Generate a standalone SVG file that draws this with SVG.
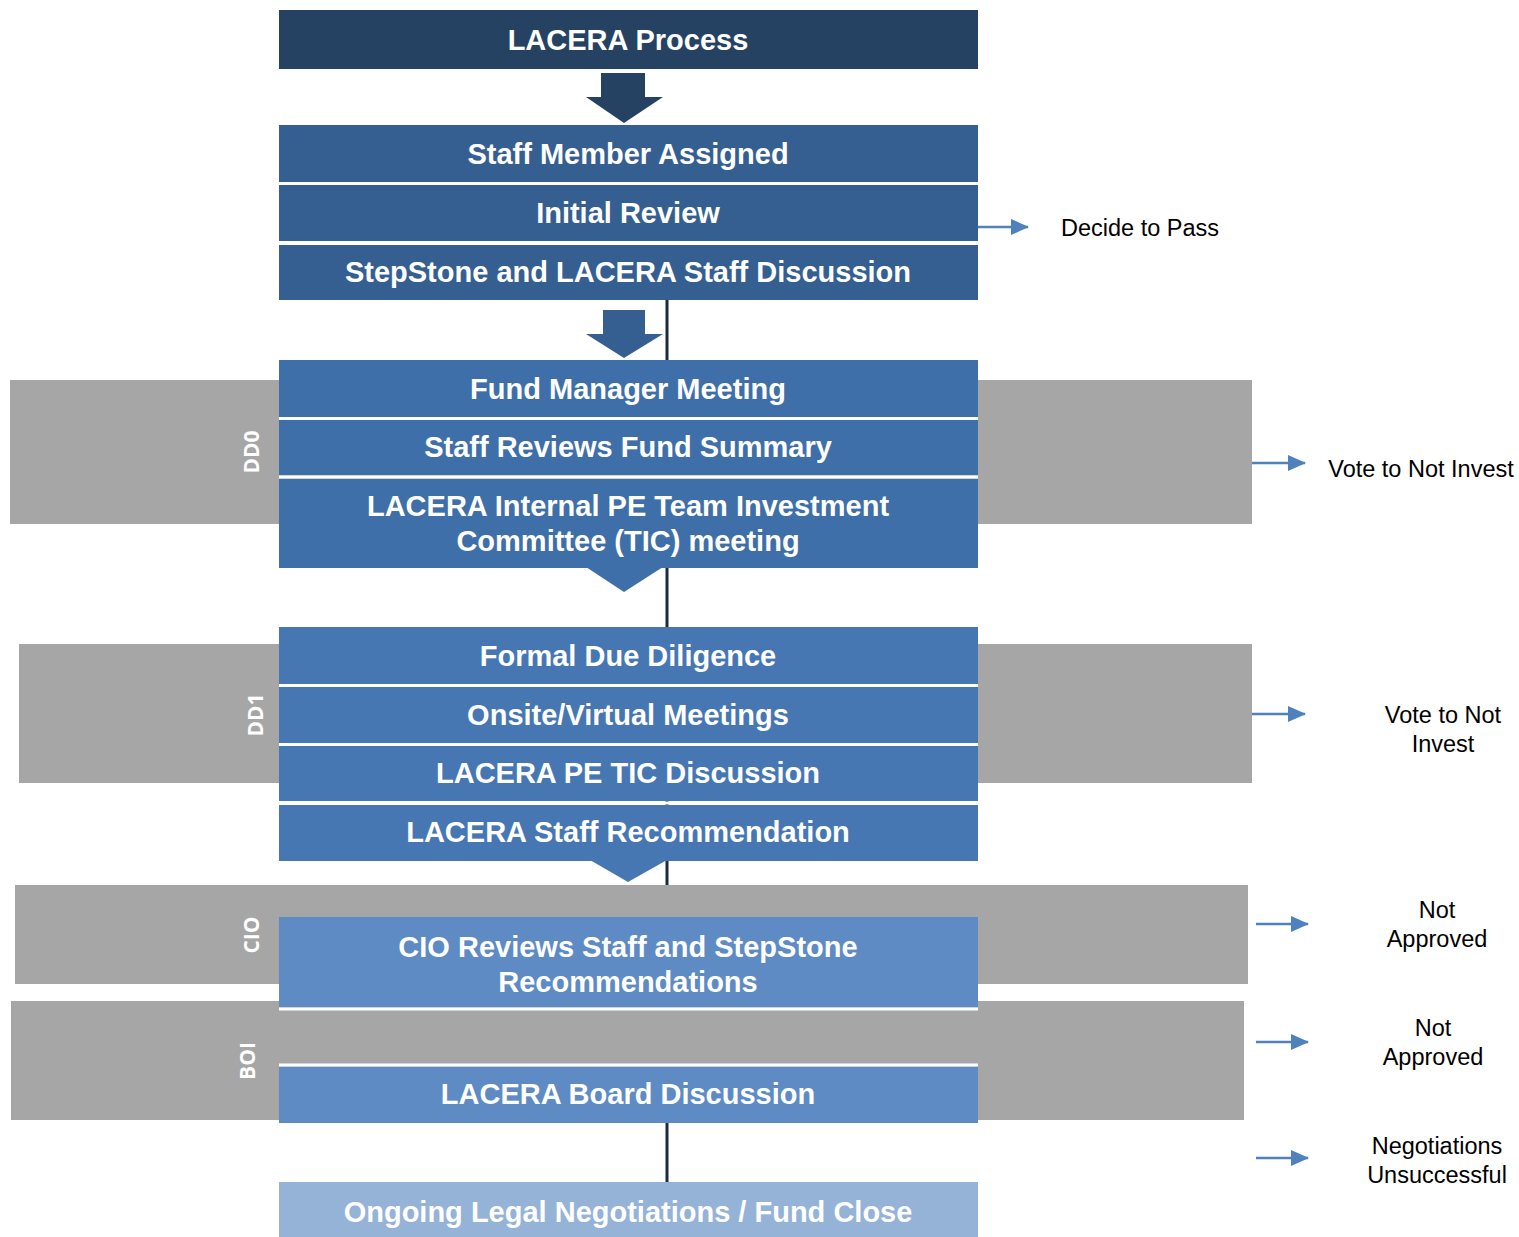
<svg xmlns="http://www.w3.org/2000/svg" width="1519" height="1237" viewBox="0 0 1519 1237">
<defs>
<style>
.band{fill:#A6A6A6}
.t{font-family:"Liberation Sans",Arial,sans-serif;font-weight:bold;font-size:29px;fill:#FFFFFF;text-anchor:middle}
.side{font-family:"Liberation Sans",Arial,sans-serif;font-size:23.5px;fill:#000000;text-anchor:middle}
.rot{font-family:"Open Sans","DejaVu Sans",sans-serif;font-weight:bold;font-size:21px;fill:#FFFFFF;text-anchor:middle}
.c0{fill:#264263}
.c1{fill:#365F91}
.c2{fill:#3F6FA8}
.c3{fill:#4677B3}
.c4{fill:#5E8BC4}
.c5{fill:#95B3D7}
.sep{stroke:#FFFFFF;stroke-width:3}
.arr{stroke:#4F81BD;stroke-width:2.5;fill:none}
</style>
<marker id="ah" viewBox="0 0 18 16" refX="17" refY="8" markerWidth="18" markerHeight="16" markerUnits="userSpaceOnUse" orient="auto">
<path d="M0,0 L18,8 L0,16 z" fill="#4F81BD"/>
</marker>
</defs>
<rect width="1519" height="1237" fill="#FFFFFF"/>

<g id="spine">
<line x1="667" y1="300" x2="667" y2="1182" stroke="#1C2B3F" stroke-width="3"/>
</g>

<g id="band-dd0"><rect class="band" x="10" y="380" width="1242" height="144"/><text class="rot" transform="translate(259,452) rotate(-90)">DD0</text></g>
<g id="band-dd1"><rect class="band" x="19" y="644" width="1233" height="139"/><text class="rot" transform="translate(263,715) rotate(-90)">DD1</text></g>
<g id="band-cio"><rect class="band" x="15" y="885" width="1233" height="99"/><text class="rot" transform="translate(259,935) rotate(-90)">CIO</text></g>
<g id="band-boi"><rect class="band" x="11" y="1001" width="1233" height="119"/><text class="rot" transform="translate(255,1061) rotate(-90)">BOI</text></g>

<g id="header"><rect class="c0" x="279" y="10" width="699" height="59"/><text class="t" x="628" y="50">LACERA Process</text></g>
<g id="arrow1"><polygon class="c0" points="601,73 645,73 645,97 663,97 624,123 586,97 601,97"/></g>

<g id="separators">
<line class="sep" x1="279" y1="183.5" x2="978" y2="183.5"/>
<line class="sep" x1="279" y1="243" x2="978" y2="243"/>
<line class="sep" x1="279" y1="418.5" x2="978" y2="418.5"/>
<line class="sep" x1="279" y1="477" x2="978" y2="477"/>
<line class="sep" x1="279" y1="685.5" x2="978" y2="685.5"/>
<line class="sep" x1="279" y1="744.5" x2="978" y2="744.5"/>
<line class="sep" x1="279" y1="803" x2="978" y2="803"/>
<line class="sep" x1="279" y1="1009" x2="978" y2="1009"/>
<line class="sep" x1="279" y1="1065" x2="978" y2="1065"/>
</g>

<g id="staff-assigned"><rect class="c1" x="279" y="125" width="699" height="57"/><text class="t" x="628" y="164">Staff Member Assigned</text></g>
<g id="initial-review"><rect class="c1" x="279" y="185" width="699" height="56"/><text class="t" x="628" y="223">Initial Review</text></g>
<g id="stepstone-discussion"><rect class="c1" x="279" y="245" width="699" height="55"/><text class="t" x="628" y="282">StepStone and LACERA Staff Discussion</text></g>
<g id="arrow2"><polygon class="c1" points="603,310 645,310 645,334 663,334 624,358 586,334 603,334"/></g>

<g id="fund-manager"><rect class="c2" x="279" y="360" width="699" height="57"/><text class="t" x="628" y="399">Fund Manager Meeting</text></g>
<g id="fund-summary"><rect class="c2" x="279" y="420" width="699" height="55"/><text class="t" x="628" y="457">Staff Reviews Fund Summary</text></g>
<g id="tic-meeting"><rect class="c2" x="279" y="479" width="699" height="89"/><polygon class="c2" points="586,567 663,567 624,592"/><text class="t" x="628" y="516">LACERA Internal PE Team Investment</text><text class="t" x="628" y="551">Committee (TIC) meeting</text></g>

<g id="formal-dd"><rect class="c3" x="279" y="627" width="699" height="57"/><text class="t" x="628" y="666">Formal Due Diligence</text></g>
<g id="onsite"><rect class="c3" x="279" y="687" width="699" height="56"/><text class="t" x="628" y="725">Onsite/Virtual Meetings</text></g>
<g id="pe-tic"><rect class="c3" x="279" y="746" width="699" height="55"/><text class="t" x="628" y="783">LACERA PE TIC Discussion</text></g>
<g id="staff-rec"><rect class="c3" x="279" y="805" width="699" height="56"/><polygon class="c3" points="590,860 667,860 628,882"/><text class="t" x="628" y="842">LACERA Staff Recommendation</text></g>

<g id="cio-review"><rect class="c4" x="279" y="917" width="699" height="90"/><text class="t" x="628" y="957">CIO Reviews Staff and StepStone</text><text class="t" x="628" y="992">Recommendations</text></g>
<g id="board"><rect class="c4" x="279" y="1067" width="699" height="56"/><text class="t" x="628" y="1104">LACERA Board Discussion</text></g>

<g id="fund-close"><rect class="c5" x="279" y="1182" width="699" height="55"/><text class="t" x="628" y="1222">Ongoing Legal Negotiations / Fund Close</text></g>

<g id="connectors">
<line class="arr" x1="978" y1="227" x2="1028" y2="227" marker-end="url(#ah)"/>
<line class="arr" x1="1252" y1="463" x2="1305" y2="463" marker-end="url(#ah)"/>
<line class="arr" x1="1252" y1="714" x2="1305" y2="714" marker-end="url(#ah)"/>
<line class="arr" x1="1256" y1="924" x2="1308" y2="924" marker-end="url(#ah)"/>
<line class="arr" x1="1256" y1="1042" x2="1308" y2="1042" marker-end="url(#ah)"/>
<line class="arr" x1="1256" y1="1158" x2="1308" y2="1158" marker-end="url(#ah)"/>
</g>

<g id="labels">
<text class="side" x="1140" y="236">Decide to Pass</text>
<text class="side" x="1421" y="477">Vote to Not Invest</text>
<text class="side" x="1443" y="723">Vote to Not</text><text class="side" x="1443" y="752">Invest</text>
<text class="side" x="1437" y="918">Not</text><text class="side" x="1437" y="947">Approved</text>
<text class="side" x="1433" y="1036">Not</text><text class="side" x="1433" y="1065">Approved</text>
<text class="side" x="1437" y="1154">Negotiations</text><text class="side" x="1437" y="1183">Unsuccessful</text>
</g>
</svg>
